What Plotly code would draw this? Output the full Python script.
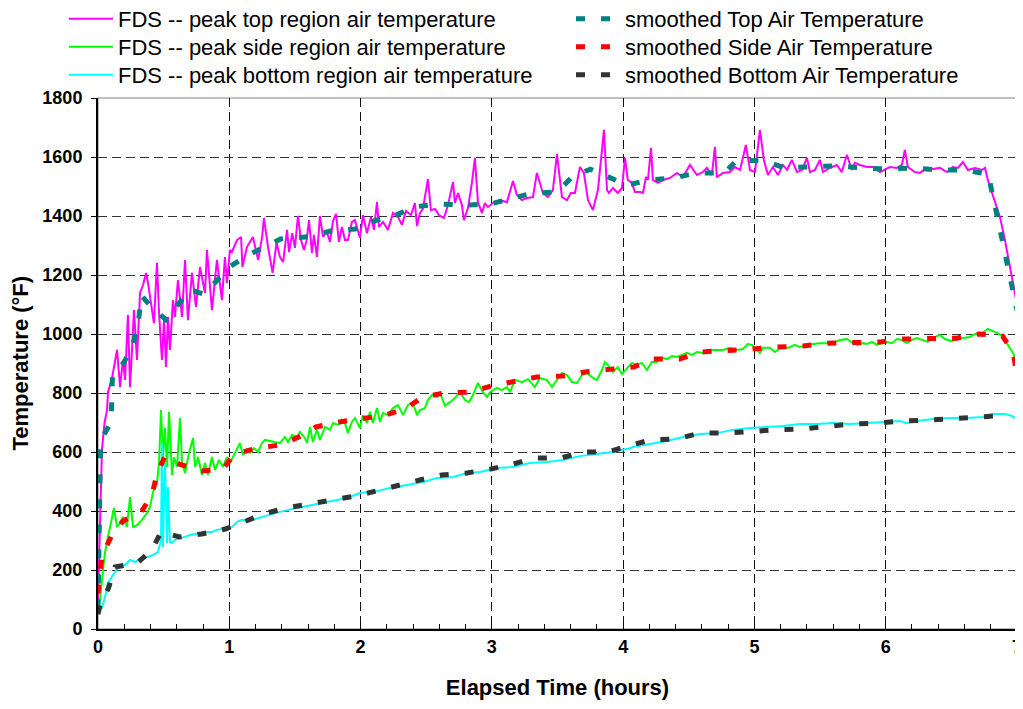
import plotly.graph_objects as go

# FDS peak top region air temperature (hours, deg F)
top_t = [0.0, 0.01, 0.02, 0.03, 0.05, 0.069, 0.076, 0.107, 0.145, 0.168, 0.19, 0.206, 0.228, 0.244,
         0.259, 0.274, 0.297, 0.32, 0.343, 0.366, 0.381, 0.411, 0.426, 0.449, 0.465, 0.487, 0.503,
         0.518, 0.533, 0.548, 0.571, 0.586, 0.609, 0.64, 0.663, 0.685, 0.716, 0.746, 0.777, 0.815,
         0.83, 0.868, 0.906, 0.944, 0.967, 0.982, 1.005, 1.02, 1.06, 1.09, 1.10, 1.135, 1.18, 1.22,
         1.25, 1.264, 1.295, 1.33, 1.36, 1.386, 1.41, 1.44, 1.455, 1.48, 1.50, 1.523, 1.546, 1.569,
         1.59, 1.607, 1.63, 1.645, 1.668, 1.69, 1.714, 1.744, 1.767, 1.79, 1.813, 1.835, 1.858,
         1.881, 1.904, 1.934, 1.957, 1.995, 2.018, 2.049, 2.079, 2.102, 2.125, 2.14, 2.171, 2.209,
         2.247, 2.285, 2.315, 2.346, 2.384, 2.414, 2.43, 2.452, 2.475, 2.513, 2.536, 2.567, 2.597,
         2.635, 2.666, 2.704, 2.719, 2.742, 2.772, 2.787, 2.818, 2.848, 2.871, 2.894, 2.925, 2.947,
         2.97, 3.008, 3.062, 3.115, 3.161, 3.191, 3.229, 3.267, 3.313, 3.343, 3.389, 3.427, 3.465,
         3.496, 3.534, 3.572, 3.602, 3.633, 3.671, 3.701, 3.732, 3.77, 3.808, 3.854, 3.877, 3.892,
         3.922, 3.96, 3.991, 4.014, 4.036, 4.067, 4.09, 4.128, 4.151, 4.174, 4.189, 4.212, 4.227,
         4.265, 4.303, 4.357, 4.41, 4.455, 4.509, 4.562, 4.608, 4.638, 4.676, 4.699, 4.714, 4.76,
         4.813, 4.851, 4.89, 4.935, 4.966, 5.004, 5.042, 5.072, 5.103, 5.141, 5.179, 5.217, 5.248,
         5.286, 5.324, 5.362, 5.40, 5.423, 5.461, 5.499, 5.522, 5.575, 5.628, 5.666, 5.704, 5.743,
         5.765, 5.804, 5.857, 5.903, 5.956, 6.032, 6.085, 6.123, 6.146, 6.169, 6.222, 6.26, 6.314,
         6.359, 6.413, 6.466, 6.512, 6.55, 6.588, 6.626, 6.679, 6.733, 6.756, 6.778, 6.832, 6.87,
         6.908, 6.946, 6.984, 7.0]
top_v = [90, 250, 420, 607, 700, 742, 803, 851, 946, 820, 912, 844, 1064, 820,
         946, 1081, 912, 1139, 1166, 1207, 1173, 1071, 1037, 1241, 1071, 912, 1047,
         888, 1058, 946, 1115, 1058, 1183, 1058, 1251, 1047, 1207, 1092, 1227, 1139,
         1285, 1081, 1251, 1115, 1261, 1173, 1285, 1278, 1319, 1329, 1227, 1295, 1329, 1251,
         1329, 1393, 1295, 1207, 1309, 1261, 1244, 1353, 1278, 1342, 1292, 1400, 1319, 1285,
         1319, 1386, 1275, 1336, 1261, 1400, 1329, 1346, 1312, 1383, 1407, 1312, 1363,
         1319, 1319, 1380, 1386, 1326, 1403, 1342, 1397, 1353, 1447, 1363, 1380, 1353,
         1410, 1397, 1370, 1417, 1403, 1444, 1366, 1410, 1424, 1525, 1420, 1424, 1403,
         1393, 1437, 1515, 1444, 1478, 1437, 1386, 1427, 1512, 1597, 1447, 1410, 1444,
         1430, 1444, 1454, 1447, 1519, 1471, 1454, 1461, 1464, 1546, 1478, 1464, 1488,
         1610, 1464, 1454, 1478, 1478, 1566, 1546, 1454, 1420, 1488, 1692, 1488, 1478,
         1495, 1478, 1495, 1597, 1522, 1512, 1481, 1481, 1478, 1532, 1522, 1631, 1522,
         1512, 1522, 1529, 1546, 1532, 1573, 1539, 1549, 1563, 1539, 1634, 1532, 1546,
         1549, 1566, 1556, 1641, 1556, 1549, 1692, 1590, 1539, 1566, 1539, 1573, 1556,
         1590, 1549, 1556, 1597, 1549, 1556, 1590, 1549, 1563, 1573, 1549, 1607, 1556,
         1580, 1573, 1566, 1566, 1549, 1566, 1563, 1573, 1624, 1566, 1549, 1546, 1563,
         1559, 1563, 1549, 1566, 1563, 1583, 1556, 1563, 1556, 1563, 1522, 1444, 1397,
         1319, 1227, 1139, 1100]

# FDS peak side region air temperature
side_t = [0.0, 0.015, 0.038, 0.053, 0.076, 0.107, 0.122, 0.145, 0.168, 0.19, 0.221, 0.244, 0.267,
          0.297, 0.335, 0.373, 0.396, 0.419, 0.449, 0.465, 0.48, 0.495, 0.51, 0.526, 0.541, 0.564,
          0.579, 0.602, 0.625, 0.64, 0.663, 0.693, 0.724, 0.739, 0.762, 0.792, 0.815, 0.838, 0.868,
          0.891, 0.922, 0.952, 0.982, 1.005, 1.028, 1.059, 1.081, 1.104, 1.135, 1.158, 1.188, 1.219,
          1.249, 1.272, 1.386, 1.424, 1.447, 1.478, 1.516, 1.538, 1.577, 1.592, 1.615, 1.637, 1.668,
          1.691, 1.729, 1.767, 1.79, 1.828, 1.858, 1.881, 1.904, 1.934, 1.957, 1.995, 2.018, 2.049,
          2.072, 2.094, 2.125, 2.148, 2.171, 2.209, 2.247, 2.285, 2.323, 2.361, 2.399, 2.43, 2.452,
          2.49, 2.513, 2.544, 2.582, 2.605, 2.643, 2.681, 2.719, 2.757, 2.795, 2.826, 2.856, 2.894,
          2.932, 2.963, 2.986, 3.039, 3.077, 3.115, 3.138, 3.176, 3.229, 3.275, 3.328, 3.366, 3.42,
          3.458, 3.496, 3.534, 3.572, 3.61, 3.648, 3.686, 3.724, 3.762, 3.8, 3.839, 3.861, 3.884,
          3.922, 3.96, 3.991, 4.029, 4.067, 4.105, 4.143, 4.181, 4.219, 4.257, 4.296, 4.334, 4.372,
          4.41, 4.448, 4.486, 4.524, 4.562, 4.608, 4.661, 4.714, 4.76, 4.813, 4.867, 4.912, 4.95,
          4.981, 5.019, 5.042, 5.065, 5.118, 5.156, 5.21, 5.255, 5.308, 5.347, 5.4, 5.446, 5.499,
          5.552, 5.598, 5.651, 5.705, 5.75, 5.788, 5.826, 5.857, 5.895, 5.933, 5.971, 6.009, 6.047,
          6.085, 6.123, 6.161, 6.199, 6.238, 6.276, 6.321, 6.359, 6.413, 6.451, 6.504, 6.542, 6.588,
          6.641, 6.679, 6.718, 6.756, 6.778, 6.816, 6.854, 6.892, 6.931, 6.969, 7.0]
side_v = [75, 100, 200, 258, 312, 380, 410, 346, 359, 380, 346, 447, 346,
          352, 370, 393, 414, 464, 495, 563, 742, 583, 681, 549, 736, 522,
          583, 549, 715, 563, 529, 597, 647, 549, 583, 522, 563, 522, 583,
          539, 573, 549, 583, 563, 583, 613, 630, 590, 607, 597, 613, 600,
          630, 641, 630, 651, 634, 658, 651, 668, 647, 630, 685, 634, 675,
          641, 685, 675, 698, 692, 709, 698, 664, 702, 715, 681, 725, 698,
          736, 698, 749, 702, 732, 725, 749, 759, 725, 759, 766, 725, 742,
          749, 776, 793, 786, 800, 756, 769, 783, 803, 776, 769, 793, 834,
          803, 786, 803, 817, 810, 820, 803, 844, 837, 847, 820, 851, 844,
          820, 844, 868, 861, 837, 834, 861, 868, 854, 844, 878, 905, 895,
          871, 888, 864, 885, 902, 895, 902, 878, 905, 905, 919, 915, 925,
          922, 929, 936, 929, 939, 936, 946, 946, 946, 953, 946, 949, 966,
          963, 946, 936, 953, 953, 939, 956, 953, 963, 956, 963, 966, 969,
          969, 969, 980, 983, 969, 963, 969, 966, 973, 963, 969, 973, 969,
          983, 980, 969, 980, 986, 980, 973, 986, 997, 983, 976, 983, 986,
          990, 1000, 997, 1010, 1017, 1010, 1003, 990, 963, 936, 902]

# FDS peak bottom region air temperature
bot_t = [0.0, 0.03, 0.053, 0.076, 0.114, 0.152, 0.206, 0.244, 0.282, 0.335, 0.381, 0.419, 0.457,
         0.48, 0.487, 0.495, 0.51, 0.526, 0.533, 0.548, 0.564, 0.586, 0.625, 0.663, 0.701, 0.762,
         0.815, 0.868, 0.906, 0.944, 0.982, 1.021, 1.059, 1.097, 1.135, 1.173, 1.219, 1.257, 1.386,
         1.516, 1.637, 1.767, 1.896, 1.995, 2.094, 2.224, 2.353, 2.475, 2.582, 2.704, 2.81, 2.909,
         3.039, 3.161, 3.29, 3.42, 3.542, 3.671, 3.8, 3.922, 4.052, 4.075, 4.204, 4.334, 4.456,
         4.585, 4.714, 4.836, 4.966, 5.095, 5.217, 5.347, 5.476, 5.598, 5.727, 5.857, 5.979, 6.108,
         6.161, 6.238, 6.359, 6.489, 6.618, 6.74, 6.832, 6.908, 6.961, 7.0]
bot_v = [64, 71, 108, 156, 183, 207, 217, 234, 227, 241, 244, 251, 261,
         302, 630, 278, 573, 292, 481, 295, 292, 302, 309, 312, 319, 325,
         329, 329, 336, 339, 339, 346, 363, 370, 366, 370, 376, 380, 397,
         410, 420, 431, 444, 461, 464, 478, 488, 498, 512, 515, 529, 532,
         546, 549, 563, 566, 573, 586, 593, 600, 613, 617, 627, 637, 651,
         661, 664, 675, 681, 685, 688, 695, 695, 698, 695, 698, 702, 705,
         698, 705, 712, 715, 715, 719, 729, 729, 722, 712]

# smoothed series
stop_t = [0.0, 0.02, 0.1, 0.11, 0.2, 0.27, 0.31, 0.33, 0.41, 0.52, 0.61, 0.70, 0.81, 0.91, 1.0,
          1.13, 1.39, 1.61, 1.77, 1.96, 2.10, 2.27, 2.40, 2.59, 2.79, 2.99, 3.15, 3.31, 3.50, 3.61,
          3.75, 3.90, 4.03, 4.20, 4.39, 4.56, 4.77, 4.87, 5.08, 5.23, 5.43, 5.62, 5.82, 6.01, 6.21,
          6.41, 6.60, 6.78, 6.83, 6.88, 6.93, 6.97, 7.0]
stop_v = [70, 640, 700, 860, 905, 970, 1050, 1130, 1090, 1048, 1100, 1150, 1135, 1186, 1227,
          1264, 1322, 1330, 1349, 1356, 1383, 1403, 1430, 1441, 1437, 1441, 1458, 1478, 1481, 1532,
          1559, 1532, 1505, 1522, 1529, 1546, 1546, 1590, 1586, 1563, 1566, 1570, 1563, 1559, 1563,
          1556, 1556, 1542, 1440, 1330, 1230, 1140, 1080]

sside_t = [0.0, 0.03, 0.1, 0.19, 0.33, 0.41, 0.45, 0.51, 0.62, 0.79, 0.95, 1.04, 1.21, 1.39, 1.53,
           1.66, 1.84, 2.01, 2.19, 2.35, 2.47, 2.64, 2.83, 3.00, 3.17, 3.34, 3.54, 3.71, 3.91, 4.08,
           4.23, 4.43, 4.59, 4.79, 4.98, 5.17, 5.37, 5.56, 5.77, 5.96, 6.13, 6.34, 6.54, 6.71, 6.89,
           6.97, 7.0]
sside_v = [120, 250, 312, 366, 397, 454, 525, 586, 559, 536, 542, 593, 613, 624, 651,
           685, 702, 715, 725, 749, 786, 800, 803, 824, 837, 854, 858, 871, 881, 888,
           915, 915, 939, 942, 949, 956, 959, 969, 969, 973, 983, 983, 986, 1000, 993,
           939, 860]

sbot_t = [0.0, 0.015, 0.08, 0.13, 0.30, 0.41, 0.48, 0.62, 0.79, 0.97, 1.11, 1.26, 1.43, 1.61, 1.79,
          1.96, 2.12, 2.28, 2.45, 2.62, 2.81, 2.99, 3.16, 3.32, 3.53, 3.69, 3.89, 4.03, 4.21, 4.41,
          4.58, 4.78, 4.97, 5.16, 5.36, 5.55, 5.74, 5.94, 6.12, 6.33, 6.52, 6.72, 6.92]
sbot_v = [50, 81, 139, 210, 224, 268, 329, 312, 322, 339, 363, 390, 410, 424, 434,
          451, 468, 488, 505, 522, 529, 542, 559, 580, 580, 600, 600, 620, 641, 644,
          664, 664, 671, 675, 678, 685, 695, 698, 705, 708, 715, 719, 725]

y_ticks = [0, 200, 400, 600, 800, 1000, 1200, 1400, 1600, 1800]
y_labels = ["%d\u00a0" % v for v in y_ticks]

FONT = "Liberation Sans, Arial, sans-serif"

# the page body has an 8px margin, so the figure sits 8px in from the corner
W, H = 1015, 693
PLOT_W = W - 90 - 6

fig = go.Figure()

series = [
    ("FDS -- peak top region air temperature", top_t, top_v, "#FF00FF", None),
    ("FDS -- peak side region air temperature", side_t, side_v, "#00FF00", None),
    ("FDS -- peak bottom region air temperature", bot_t, bot_v, "#00FFFF", None),
    ("smoothed Top Air Temperature", stop_t, stop_v, "#008080", "9px,16px"),
    ("smoothed Side Air Temperature", sside_t, sside_v, "#FF0000", "9px,16px"),
    ("smoothed Bottom Air Temperature", sbot_t, sbot_v, "#333333", "9px,16px"),
]
legends = {}
row_y = [19, 47, 75]
for i, (name, t, v, c, dash) in enumerate(series):
    key = "legend" if i == 0 else "legend%d" % (i + 1)
    if dash is None:
        line = dict(color=c, width=2)
        lx = 64
    else:
        line = dict(color=c, width=5, dash=dash)
        lx = 571
    fig.add_trace(go.Scatter(x=t, y=v, mode="lines", name=name, line=line, legend=key))
    legends[key] = dict(xref="container", yref="container", xanchor="left", yanchor="middle",
                        x=(lx - 8) / W, y=1 - (row_y[i % 3] - 8) / H,
                        bgcolor="rgba(0,0,0,0)", borderwidth=0, itemwidth=44,
                        font=dict(family=FONT, size=22, color="black"))

fig.update_xaxes(range=[0, 7], dtick=1, showgrid=True, gridcolor="#111111", gridwidth=1,
                 griddash="9px,5px", zeroline=False, showline=True, linecolor="black",
                 linewidth=2, ticks="inside", ticklen=6, tickcolor="black",
                 minor=dict(dtick=0.2, ticks="inside", ticklen=5, tickcolor="black", showgrid=False),
                 tickfont=dict(family=FONT, size=18, color="black", weight="bold"),
                 title=dict(text="Elapsed Time (hours)", standoff=24,
                            font=dict(family=FONT, size=22, color="black", weight="bold")))
fig.update_yaxes(range=[0, 1800], tickvals=y_ticks, ticktext=y_labels, showgrid=True,
                 gridcolor="#333333", gridwidth=1, griddash="9px,5px", zeroline=False,
                 showline=True, linecolor="black", linewidth=2, ticks="outside", ticklen=5,
                 tickcolor="black",
                 tickfont=dict(family=FONT, size=18, color="black", weight="bold"))

# y axis title as a rotated annotation
fig.add_annotation(text="Temperature (°F)", textangle=-90, showarrow=False,
                   xref="paper", yref="paper", x=-78 / PLOT_W, y=0.5,
                   xanchor="center", yanchor="middle",
                   font=dict(family=FONT, size=22, color="black", weight="bold"))

fig.add_shape(type="rect", xref="paper", yref="paper", x0=0, x1=1, y0=0, y1=1,
              line=dict(color="#808080", width=1), layer="below")

fig.update_layout(
    width=W, height=H,
    margin=dict(l=90, r=6, t=90, b=72, autoexpand=False),
    paper_bgcolor="white", plot_bgcolor="white",
    showlegend=True,
    **legends,
)

fig.write_html("out.html")
